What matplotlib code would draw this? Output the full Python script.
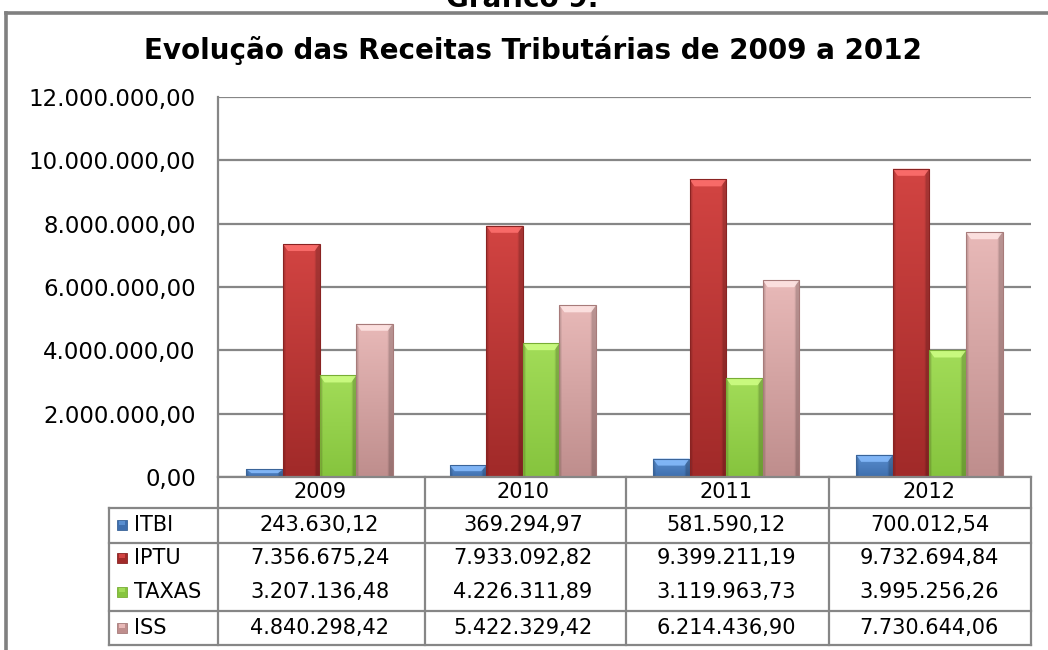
import numpy as np
import matplotlib
matplotlib.use("Agg")
import matplotlib.pyplot as plt
from matplotlib.colors import to_rgb
from matplotlib.patches import Rectangle
from matplotlib.lines import Line2D
import matplotlib.transforms as mtransforms

plt.rcParams['font.family'] = ['DejaVu Sans']

years = ["2009", "2010", "2011", "2012"]
series_names = ["ITBI", "IPTU", "TAXAS", "ISS"]
itbi = [243630.12, 369294.97, 581590.12, 700012.54]
iptu = [7356675.24, 7933092.82, 9399211.19, 9732694.84]
taxas = [3207136.48, 4226311.89, 3119963.73, 3995256.26]
iss = [4840298.42, 5422329.42, 6214436.90, 7730644.06]
yticks = [0, 2e6, 4e6, 6e6, 8e6, 10e6, 12e6]

series = [itbi, iptu, taxas, iss]
# (top colour, bottom colour)
colors = [("#5a8fd0", "#3f6fae"), ("#d24442", "#a12a29"),
          ("#a2dc58", "#86c43e"), ("#e8b9b8", "#bf8e8d")]
edge_colors = ["#3a6499", "#8a2322", "#78ad35", "#a77b7a"]


def br(v):
    s = f"{v:,.2f}"
    return s.replace(",", "X").replace(".", ",").replace("X", ".")


W, H = 1048, 650
fig = plt.figure(figsize=(W / 100, H / 100), dpi=100)


def fx(px):
    return px / W


def fy(py):
    return 1 - py / H


ax = fig.add_axes([fx(218), fy(477), fx(1031) - fx(218), fy(97) - fy(477)])
ax.set_xlim(-0.5, 3.5)
ax.set_ylim(0, 12e6)
ax.set_yticks(yticks)
ax.set_yticklabels([br(t) for t in yticks], fontsize=16.5)
ax.tick_params(axis='y', length=0, pad=16)
ax.set_xticks([])
for s in ["top", "right", "bottom"]:
    ax.spines[s].set_visible(False)
ax.spines["left"].set_color("#868686")
ax.spines["left"].set_linewidth(1.6)
ax.yaxis.grid(True, color="#868686", linewidth=1.6)
ax.set_axisbelow(True)

x = np.arange(len(years))
group_w = 0.72
bw = group_w / len(series)
px_h = 12e6 / (477 - 97)  # data units per pixel vertically
px_w = 4.0 / (1031 - 218)

for i, (vals, (ctop, cbot), ec) in enumerate(zip(series, colors, edge_colors)):
    offs = x - group_w / 2 + bw * (i + 0.5)
    bars = ax.bar(offs, vals, width=bw, color=cbot, edgecolor=ec,
                  linewidth=0.8, zorder=3)
    for b in bars:
        x0, y0 = b.get_x(), b.get_y()
        w, h = b.get_width(), b.get_height()
        n = 64
        t = np.linspace(0, 1, n)[:, None]
        c1, c2 = np.array(to_rgb(ctop)), np.array(to_rgb(cbot))
        grad = c1 * (1 - t[..., None]) + c2 * t[..., None]
        grad = np.repeat(grad, 16, axis=1)
        edge = np.ones(16)
        edge[:1] = 0.85
        edge[-2:] = 0.80
        grad = grad * edge[None, :, None]
        im = ax.imshow(grad, extent=(x0, x0 + w, y0, y0 + h), aspect='auto',
                       origin='upper', zorder=3.5, interpolation='bilinear')
        im.set_clip_path(b)
        bh = min(7 * px_h, h * 0.5)
        inset = 5 * px_w
        lighter = tuple(min(1, c + 0.18) for c in to_rgb(ctop))
        trap = plt.Polygon([(x0, y0 + h), (x0 + w, y0 + h),
                            (x0 + w - inset, y0 + h - bh),
                            (x0 + inset, y0 + h - bh)],
                           closed=True, facecolor=lighter, edgecolor='none',
                           alpha=0.85, zorder=3.6)
        ax.add_patch(trap)
        b.set_facecolor('none')
        b.set_zorder(3.7)

# ---- data table (drawn below the axes) ----
line_kw = dict(color="#868686", linewidth=1.6, transform=fig.transFigure)
col_px = [218, 425, 626, 829, 1031]
row_px = [477, 508, 543, 611, 645]
fig.add_artist(Line2D([fx(218), fx(1031)], [fy(477), fy(477)], **line_kw))
for r in row_px[1:]:
    fig.add_artist(Line2D([fx(109), fx(1031)], [fy(r), fy(r)], **line_kw))
fig.add_artist(Line2D([fx(109), fx(109)], [fy(508), fy(645)], **line_kw))
for c in col_px:
    fig.add_artist(Line2D([fx(c), fx(c)], [fy(477), fy(645)], **line_kw))

blend = mtransforms.blended_transform_factory(ax.transData, fig.transFigure)
for j, yr in enumerate(years):
    fig.text(j, fy(492), yr, transform=blend, ha='center', va='center',
             fontsize=15)

row_centers = [525, 558, 592, 628]
for i, (name, vals) in enumerate(zip(series_names, series)):
    yc = row_centers[i]
    fig.text(fx(134), fy(yc), name, ha='left', va='center', fontsize=15)
    ctop, cbot = colors[i]
    fig.add_artist(Rectangle((fx(117), fy(yc + 5)), fx(10), 10 / H,
                             facecolor=cbot, edgecolor=edge_colors[i],
                             linewidth=0.6, transform=fig.transFigure))
    fig.add_artist(Rectangle((fx(119), fy(yc)), fx(6), 4 / H,
                             facecolor=ctop, edgecolor='none',
                             transform=fig.transFigure))
    for j, v in enumerate(vals):
        fig.text(j, fy(yc), br(v), transform=blend, ha='center', va='center',
                 fontsize=15)

# ---- titles and frame ----
fig.text(fx(533), fy(50), "Evolução das Receitas Tributárias de 2009 a 2012",
         ha='center', va='center', fontsize=20, fontweight='bold')
fig.text(fx(522), fy(7), "Gráfico 9:", ha='center', va='baseline',
         fontsize=20, fontweight='bold')
frame_kw = dict(color="#808080", linewidth=2.6, transform=fig.transFigure)
fig.add_artist(Line2D([fx(6), fx(6)], [fy(13), 0], **frame_kw))
fig.add_artist(Line2D([fx(6), 1], [fy(13), fy(13)], **frame_kw))

fig.savefig("out.png", dpi=100, facecolor="white")
